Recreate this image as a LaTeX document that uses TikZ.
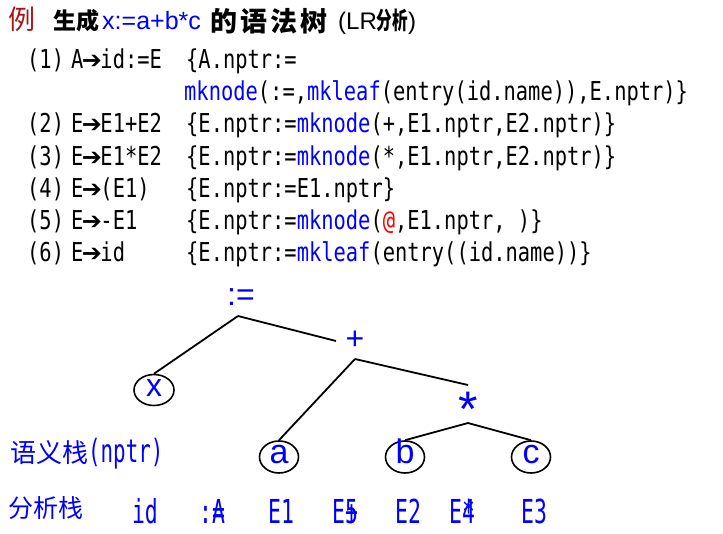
\documentclass[tikz,border=0pt]{standalone}
\usepackage{fontspec}
\usepackage{graphicx}
\usetikzlibrary{shapes.geometric}
\setmainfont{Liberation Sans}
\newfontfamily\cjk{Noto Sans CJK SC}
\newfontfamily\arrf{DejaVu Sans}
\newfontfamily\monoa[FakeStretch=0.785]{DejaVu Sans Mono}
\newfontfamily\monoc[FakeStretch=0.65]{DejaVu Sans Mono}
\newcommand\prodarrow{\makebox[17pt][c]{\arrf\fontsize{24}{24}\selectfont ➔}}
\definecolor{pblue}{RGB}{0,0,255}
\definecolor{exred}{RGB}{170,20,20}
\tikzset{
  code/.style={anchor=base west, inner sep=0pt, font=\monoa\fontsize{26}{30}\selectfont},
  treelab/.style={anchor=base, inner sep=0pt, text=pblue, font=\fontsize{32}{32}\selectfont},
  leaf/.style={draw, ellipse, line width=1.6pt, inner sep=0pt, minimum width=39pt, minimum height=32pt,
    text=pblue, text height=12pt, text depth=0pt, font=\fontsize{34}{34}\selectfont},
  edge/.style={line width=1.8pt, black},
  stk/.style={anchor=base, inner sep=0pt, text=pblue, font=\monoc\fontsize{33}{33}\selectfont},
  cjklab/.style={anchor=base west, inner sep=0pt, text=pblue}
}
\begin{document}
\begin{tikzpicture}[x=1pt,y=-1pt]
\useasboundingbox (0,0) rectangle (723,533);
% title
\node[anchor=center, inner sep=0pt, text=exred, font=\cjk\fontsize{27}{27}\selectfont] (li) at (22,19) {例};
\node[anchor=west, inner sep=0pt, font=\cjk\bfseries\fontsize{23}{23}\selectfont] (t1) at (53,21) {生成};
\node[anchor=base west, inner sep=0pt, text=pblue, font=\fontsize{25}{25}\selectfont] (t2) at (102,29) {x:=a+b*c};
\node[anchor=west, inner sep=0pt, font=\cjk\bfseries\fontsize{27}{27}\selectfont] (t3) at (210,21) {的\hspace{3pt}语\hspace{3pt}法\hspace{3pt}树};
\node[anchor=base west, inner sep=0pt, font=\fontsize{24}{24}\selectfont] (t4) at (338,29) {(LR{\cjk\bfseries\scalebox{0.65}[1]{分析}})};
% rules
\node[code] (n1) at (27,68) {(1)};
\node[code] (p1) at (71,68) {A\prodarrow id:=E};
\node[code] (a1) at (186,68) {\{A.nptr:=};
\node[code] (a1b) at (184,100) {\textcolor{pblue}{mknode}(:=,\textcolor{pblue}{mkleaf}(entry(id.name)),E.nptr)\}};
\node[code] (n2) at (27,132) {(2)};
\node[code] (p2) at (71,132) {E\prodarrow E1+E2};
\node[code] (a2) at (186,132) {\{E.nptr:=\textcolor{pblue}{mknode}(+,E1.nptr,E2.nptr)\}};
\node[code] (n3) at (27,165) {(3)};
\node[code] (p3) at (71,165) {E\prodarrow E1*E2};
\node[code] (a3) at (186,165) {\{E.nptr:=\textcolor{pblue}{mknode}(*,E1.nptr,E2.nptr)\}};
\node[code] (n4) at (27,197) {(4)};
\node[code] (p4) at (71,197) {E\prodarrow(E1)};
\node[code] (a4) at (186,197) {\{E.nptr:=E1.nptr\}};
\node[code] (n5) at (27,229) {(5)};
\node[code] (p5) at (71,229) {E\prodarrow-E1};
\node[code] (a5) at (186,229) {\{E.nptr:=\textcolor{pblue}{mknode}(\textcolor{red}{@},E1.nptr, )\}};
\node[code] (n6) at (27,261) {(6)};
\node[code] (p6) at (71,261) {E\prodarrow id};
\node[code] (a6) at (186,261) {\{E.nptr:=\textcolor{pblue}{mkleaf}(entry((id.name))\}};
% tree
\node[treelab] (asg) at (241,305) {:=};
\node[treelab] (plus) at (355,349.5) {+};
\node[treelab, font=\fontsize{50}{50}\selectfont] (star) at (468,426) {*};
\coordinate (ap1) at (238,316);
\coordinate (ap2) at (355,359);
\coordinate (ap3) at (468,423);
\coordinate (e1) at (336,341);
\coordinate (e2) at (468,385);
\node[leaf, font=\fontsize{32}{32}\selectfont, minimum width=40pt, minimum height=31pt] (xl) at (154,390) {x};
\node[leaf] (al) at (279,457) {a};
\node[leaf] (bl) at (405,457) {b};
\node[leaf] (cl) at (531,457) {c};
\draw[edge] (ap1) -- (xl.north);
\draw[edge] (ap1) -- (e1);
\draw[edge] (ap2) -- (al.north);
\draw[edge] (ap2) -- (e2);
\draw[edge] (bl.north) -- (ap3) -- (cl.north);
% stacks
\node[cjklab] (sem) at (10,462) {{\cjk\fontsize{26}{26}\selectfont 语义栈}{\monoc\fontsize{32}{32}\selectfont(nptr)}};
\node[cjklab] (ana) at (8,517.5) {\cjk\fontsize{25}{25}\selectfont 分析栈};
\node[stk] (s1) at (145,523) {id};
\node[stk] (s2) at (212,523) {:\rlap{A}=};
\node[stk] (s3) at (281,523) {E1};
\node[stk] (s4) at (345,523) {E\rlap{5}+};
\node[stk] (s5) at (408,523) {E2};
\node[stk] (s6) at (462,523) {E\rlap{4}*};
\node[stk] (s7) at (534,523) {E3};
\end{tikzpicture}
\end{document}
